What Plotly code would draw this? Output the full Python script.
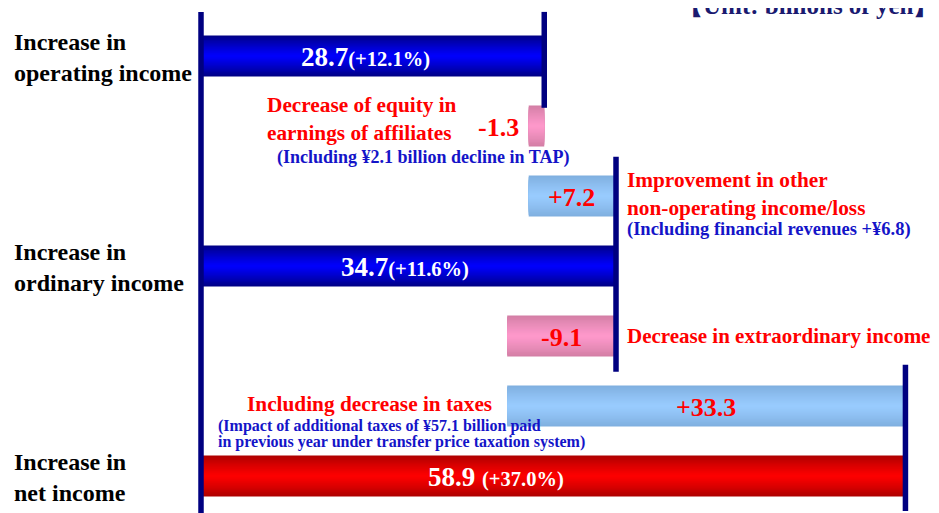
import plotly.graph_objects as go

# ---------------- data ----------------
row_labels = ["Increase in<br>operating income", "", "", "Increase in<br>ordinary income",
              "", "", "Increase in<br>net income"]
kinds = ["total", "delta", "delta", "total", "delta", "delta", "total"]
values = [28.7, -1.3, 7.2, 34.7, -9.1, 33.3, 58.9]
growth = ["+12.1%", "", "", "+11.6%", "", "", "+37.0%"]
delta_text = ["", "-1.3", "+7.2", "", "-9.1", "+33.3", ""]
unit_label = "【Unit: billions of yen】"

# ---------------- derived bases (waterfall) ----------------
bases = []
level = 0.0
for k, v in zip(kinds, values):
    if k == "total":
        bases.append(0.0)
        level = v
    else:
        bases.append(level)
        level = level + v
ends = [b + v for b, v in zip(bases, values)]
rows = list(range(len(values)))

# ---------------- styles ----------------
FONT = "Liberation Serif, Times New Roman, serif"
NAVY = "#000080"
RED = "#FF0000"
BLUE_TXT = "#1414C8"


def palette(i):
    k, v = kinds[i], values[i]
    if k == "total":
        if i == len(values) - 1:
            return ("#B00000", "#FF0000")
        return ("#000088", "#0000FF")
    if v < 0:
        return ("#D47FA6", "#FF99CC")
    return ("#80B0E0", "#99CCFF")


def hx(c):
    c = c.lstrip("#")
    return [int(c[j:j + 2], 16) for j in (0, 2, 4)]


def mix(a, b, t):
    A, B = hx(a), hx(b)
    return "#%02X%02X%02X" % tuple(round(A[j] + (B[j] - A[j]) * t) for j in range(3))


BAR_W = 0.586
N_LAYERS = 14

fig = go.Figure()
for layer in range(N_LAYERS):
    frac = 1 - layer / N_LAYERS
    cols = []
    for i in rows:
        edge, center = palette(i)
        cols.append(mix(center, edge, frac ** 1.2))
    fig.add_trace(go.Bar(
        y=rows, x=values, base=bases, orientation="h",
        width=BAR_W * frac, marker=dict(color=cols, line=dict(width=0)),
        hoverinfo="skip", showlegend=False,
    ))

# ---------------- connector lines ----------------
line_specs = [
    (0.0, -0.63, 6.9),
    (ends[0], -0.63, 0.74),
    (ends[3], 1.44, 4.51),
    (ends[6], 4.41, 6.5),
]
for x, y0, y1 in line_specs:
    fig.add_shape(type="line", x0=x, x1=x, y0=y0, y1=y1, xref="x", yref="y",
                  line=dict(color=NAVY, width=5.5), layer="above")

ann = []
# row labels (left)
for i in rows:
    if row_labels[i]:
        ann.append(dict(x=0.0045, xref="paper", y=i, yref="y", yshift=-1,
                        text=row_labels[i], xanchor="left", yanchor="middle", align="left",
                        showarrow=False,
                        font=dict(family=FONT, size=24, color="black", weight="bold")))

# total labels inside bars
total_shift = {0: -7, 3: -4, 6: -57}
for i in rows:
    if kinds[i] == "total":
        sep = " " if i == 6 else ""
        txt = (f"{values[i]:.1f}{sep}<span style='font-size:20.5px'>({growth[i]})</span>")
        ann.append(dict(x=bases[i] + values[i] / 2, y=i, xref="x", yref="y",
                        xshift=total_shift[i], yshift=-1,
                        text=txt, showarrow=False, xanchor="center", yanchor="middle",
                        font=dict(family=FONT, size=27, color="white", weight="bold")))

# delta labels
for i in rows:
    if kinds[i] == "delta":
        if i == 1:
            ann.append(dict(x=min(bases[i], ends[i]), y=i, xref="x", yref="y",
                            xshift=-8, yshift=-1, text=delta_text[i], showarrow=False,
                            xanchor="right", yanchor="middle",
                            font=dict(family=FONT, size=26, color=RED, weight="bold")))
        else:
            ann.append(dict(x=bases[i] + values[i] / 2, y=i, xref="x", yref="y",
                            yshift=-1, text=delta_text[i], showarrow=False,
                            xanchor="center", yanchor="middle",
                            font=dict(family=FONT, size=26, color=RED, weight="bold")))


# descriptive notes
def note(text, x, y, size, color, xanchor="left", xshift=0, yshift=0):
    ann.append(dict(x=x, y=y, xref="x", yref="y", xshift=xshift, yshift=yshift,
                    text=text, showarrow=False, xanchor=xanchor, yanchor="middle",
                    align="left",
                    font=dict(family=FONT, size=size, color=color, weight="bold")))


note("Decrease of equity in<br>earnings of affiliates", 0, 1, 21.3, RED, xshift=64, yshift=7)
note("(Including ¥2.1 billion decline in TAP)", 0, 1, 18, BLUE_TXT, xshift=74, yshift=-31)
note("Improvement in other<br>non-operating income/loss", ends[2], 2, 21.3, RED, xshift=10, yshift=2)
note("(Including financial revenues +¥6.8)", ends[2], 2, 18.5, BLUE_TXT, xshift=10, yshift=-33)
note("Decrease in extraordinary income", bases[4], 4, 21, RED, xshift=9, yshift=0)
note("Including decrease in taxes", bases[5], 5, 21.3, RED, xanchor="right", xshift=-13, yshift=2)
note("(Impact of additional taxes of ¥57.1 billion paid", 0, 5, 16, BLUE_TXT, xshift=15, yshift=-20)
note("in previous year under transfer price taxation system)", 0, 5, 16, BLUE_TXT, xshift=15, yshift=-36)

# unit
ann.append(dict(x=932 / 939, y=1 + 2 / 513, xref="paper", yref="paper", text=unit_label,
                showarrow=False, xanchor="right", yanchor="middle",
                font=dict(family=FONT, size=25, color="#1A1A70", weight="bold")))

SCALE = 11.96  # px per unit
X0 = 193       # pixel of x = 0 within the figure
Y0 = 48        # pixel of first row centre within the figure
ROW = 70       # pixels per row
fig.update_layout(
    width=939, height=513,
    margin=dict(l=0, r=0, t=0, b=0),
    paper_bgcolor="white", plot_bgcolor="white",
    barmode="overlay",
    xaxis=dict(range=[-X0 / SCALE, (939 - X0) / SCALE], visible=False, fixedrange=True),
    yaxis=dict(range=[(513 - Y0) / ROW, -Y0 / ROW], visible=False, fixedrange=True),
    annotations=ann,
    showlegend=False,
)

fig.write_html("out.html")
